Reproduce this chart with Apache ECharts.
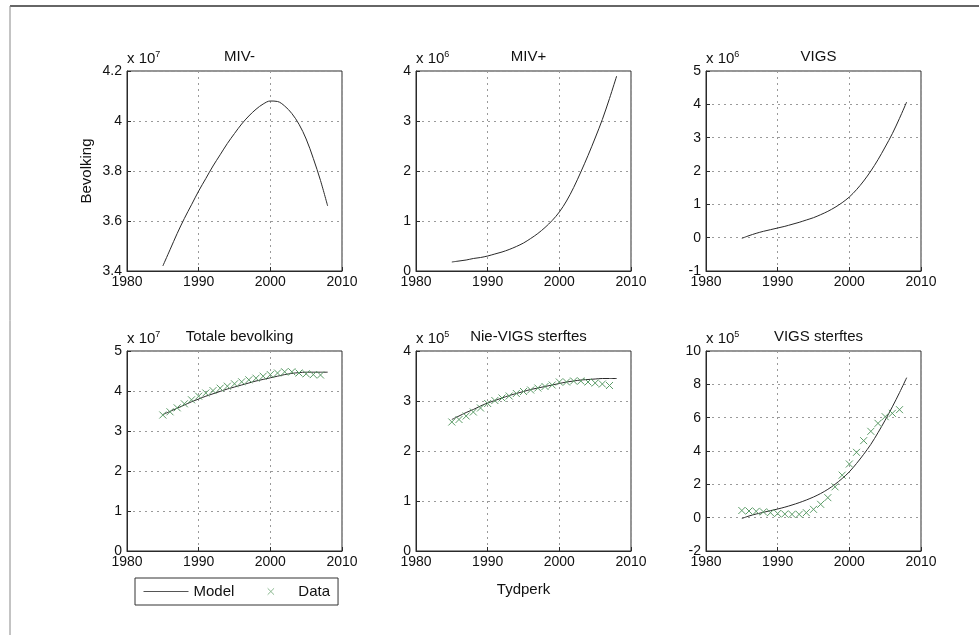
<!DOCTYPE html>
<html>
<head>
<meta charset="utf-8">
<script src="https://cdn.jsdelivr.net/npm/echarts@6/dist/echarts.min.js"></script>
<style>
html,body{margin:0;padding:0;background:#fff;}
#chart{width:979px;height:635px;}
</style>
</head>
<body>
<div id="chart"></div>
<script>
// ---- data (values in the units shown on each panel's axis) ----
const years = [1985,1986,1987,1988,1989,1990,1991,1992,1993,1994,1995,1996,1997,1998,1999,2000,2001,2002,2003,2004,2005,2006,2007,2008];
const dataYears = [1985,1986,1987,1988,1989,1990,1991,1992,1993,1994,1995,1996,1997,1998,1999,2000,2001,2002,2003,2004,2005,2006,2007];

const titles = ['MIV-','MIV+','VIGS','Totale bevolking','Nie-VIGS sterftes','VIGS sterftes'];
const exponents = ['7','6','6','7','5','5'];

// x 10^7
const mivMinus = [3.42,3.485,3.55,3.61,3.665,3.72,3.77,3.82,3.865,3.91,3.95,3.988,4.02,4.047,4.068,4.08,4.078,4.06,4.03,3.987,3.928,3.85,3.762,3.66];
// x 10^6
const mivPlus = [0.18,0.20,0.22,0.25,0.27,0.30,0.34,0.38,0.43,0.49,0.56,0.65,0.75,0.87,1.01,1.18,1.40,1.67,1.98,2.31,2.66,3.03,3.45,3.90];
// x 10^6
const vigs = [-0.02,0.06,0.13,0.19,0.24,0.29,0.34,0.40,0.46,0.53,0.60,0.69,0.79,0.91,1.05,1.22,1.44,1.70,2.00,2.34,2.72,3.12,3.58,4.07];
// x 10^7
const totalModel = [3.41,3.49,3.57,3.65,3.73,3.80,3.87,3.93,3.99,4.05,4.10,4.15,4.20,4.25,4.29,4.33,4.37,4.41,4.44,4.46,4.47,4.47,4.47,4.47];
const totalData = [3.40,3.48,3.58,3.68,3.78,3.87,3.95,4.01,4.07,4.12,4.18,4.23,4.28,4.32,4.37,4.41,4.45,4.48,4.48,4.45,4.43,4.41,4.40];
// x 10^5
const nonVigsModel = [2.63,2.70,2.77,2.83,2.90,2.96,3.01,3.06,3.11,3.15,3.19,3.23,3.26,3.29,3.32,3.35,3.38,3.40,3.42,3.43,3.44,3.45,3.45,3.45];
const nonVigsData = [2.58,2.63,2.70,2.78,2.86,2.95,3.01,3.06,3.10,3.15,3.19,3.22,3.26,3.29,3.32,3.38,3.38,3.40,3.40,3.38,3.36,3.34,3.31];
// x 10^5
const vigsDeathsModel = [-0.05,0.10,0.22,0.32,0.42,0.52,0.63,0.76,0.90,1.06,1.24,1.45,1.70,2.00,2.35,2.75,3.25,3.80,4.40,5.10,5.85,6.65,7.50,8.40];
const vigsDeathsData = [0.43,0.40,0.38,0.35,0.30,0.25,0.22,0.20,0.20,0.30,0.50,0.80,1.20,1.85,2.55,3.22,3.92,4.62,5.18,5.66,6.06,6.26,6.48];

// tick labels
const xTicks = [1980,1990,2000,2010];
const yTicks = [
  [3.4,3.6,3.8,4.0,4.2],
  [0,1,2,3,4],
  [-1,0,1,2,3,4,5],
  [0,1,2,3,4,5],
  [0,1,2,3,4],
  [-2,0,2,4,6,8,10]
];

const modelSeries = [mivMinus, mivPlus, vigs, totalModel, nonVigsModel, vigsDeathsModel];
const dataSeries = [null, null, null, totalData, nonVigsData, vigsDeathsData];

// ---- layout ----
const colLeft = [127, 416, 706];
const rowTop = [71, 351];
const gW = 215, gH = 200;
const FONT = 'Liberation Sans, Arial, Helvetica, sans-serif';
const GREEN = '#5c9c68';
const INK = '#2a2a2a';

const grids = [], xAxes = [], yAxes = [], series = [], titleOpts = [];
for (let i = 0; i < 6; i++) {
  const c = i % 3, r = Math.floor(i / 3);
  grids.push({left: colLeft[c], top: rowTop[r], width: gW, height: gH, show: true,
    borderColor: INK, borderWidth: 1, backgroundColor: '#fff', containLabel: false,
    outerBoundsMode: 'none'});
  xAxes.push({
    type: 'value', gridIndex: i, min: xTicks[0], max: xTicks[xTicks.length-1],
    interval: xTicks[1]-xTicks[0],
    axisLine: {show: true, onZero: false, lineStyle: {color: INK, width: 1}},
    axisTick: {show: true, inside: true, length: 4, lineStyle: {color: INK}},
    axisLabel: {formatter: v => String(v), fontFamily: FONT, fontSize: 14, color: '#111', margin: 4},
    splitLine: {show: true, lineStyle: {color: '#9a9a9a', type: [2, 4], width: 1}},
    name: i === 4 ? 'Tydperk' : '', nameLocation: 'middle', nameGap: 31,
    nameTextStyle: {fontFamily: FONT, fontSize: 15, color: '#111'}
  });
  const yt = yTicks[i];
  yAxes.push({
    type: 'value', gridIndex: i, min: yt[0], max: yt[yt.length-1], interval: yt[1]-yt[0],
    axisLine: {show: true, onZero: false, lineStyle: {color: INK, width: 1}},
    axisTick: {show: true, inside: true, length: 4, lineStyle: {color: INK}},
    axisLabel: {formatter: v => String(Math.round(v * 10) / 10),
      fontFamily: FONT, fontSize: 14, color: '#111', margin: 5},
    splitLine: {show: true, lineStyle: {color: '#9a9a9a', type: [2, 4], width: 1}},
    name: '{b|x 10}{s|' + exponents[i] + '}', nameLocation: 'end', nameGap: 4,
    nameTextStyle: {align: 'left', verticalAlign: 'bottom', color: '#111',
      rich: {b: {fontFamily: FONT, fontSize: 15, lineHeight: 17, color: '#111'},
             s: {fontFamily: FONT, fontSize: 9, lineHeight: 10, verticalAlign: 'top', color: '#111'}}}
  });
  titleOpts.push({text: titles[i], left: colLeft[c] + gW / 2, top: rowTop[r] - 27, textAlign: 'center',
    textStyle: {fontFamily: FONT, fontSize: 15, fontWeight: 'normal', color: '#111'}});

  series.push({
    name: 'Model', type: 'line', xAxisIndex: i, yAxisIndex: i,
    data: years.map((y, k) => [y, modelSeries[i][k]]),
    symbol: 'none', smooth: 0.35,
    lineStyle: {color: INK, width: 1},
    itemStyle: {color: INK},
    z: 3, silent: true
  });
  if (dataSeries[i]) {
    series.push({
      name: 'Data', type: 'line', xAxisIndex: i, yAxisIndex: i,
      data: dataYears.map((y, k) => [y, dataSeries[i][k]]),
      symbol: 'path://M0,0L10,10M0,10L10,0', symbolSize: 7, showSymbol: true,
      lineStyle: {opacity: 0, width: 0},
      itemStyle: {color: 'rgba(0,0,0,0)', borderColor: GREEN, borderWidth: 1},
      z: 4, silent: true
    });
  }
}

const chart = echarts.init(document.getElementById('chart'), null, {renderer: 'canvas'});
chart.setOption({
  animation: false,
  backgroundColor: '#fff',
  title: titleOpts,
  grid: grids,
  xAxis: xAxes,
  yAxis: yAxes,
  legend: {
    data: [
      {name: 'Model', itemStyle: {opacity: 0}, lineStyle: {color: '#555', width: 1}},
      {name: 'Data', itemStyle: {color: 'rgba(0,0,0,0)', borderColor: '#8ab88f', borderWidth: 1}}
    ],
    left: 135, top: 578,
    orient: 'horizontal',
    itemWidth: 45, itemHeight: 8, itemGap: 14,
    padding: [6, 8, 6, 8],
    borderColor: '#333', borderWidth: 1,
    backgroundColor: '#fff',
    textStyle: {fontFamily: FONT, fontSize: 15, color: '#111'},
    selectedMode: false
  },
  series: series,
  graphic: [
    {type: 'line', shape: {x1: 10, y1: 6, x2: 979, y2: 6}, style: {stroke: '#333', lineWidth: 1.5}, silent: true},
    {type: 'line', shape: {x1: 10, y1: 6, x2: 10, y2: 635}, style: {stroke: '#888', lineWidth: 1}, silent: true},
    {type: 'text', x: 87, y: 171, rotation: Math.PI / 2,
      style: {text: 'Bevolking', font: '15px ' + FONT, fill: '#111', align: 'center', verticalAlign: 'middle'}, silent: true}
  ]
});
</script>
</body>
</html>
